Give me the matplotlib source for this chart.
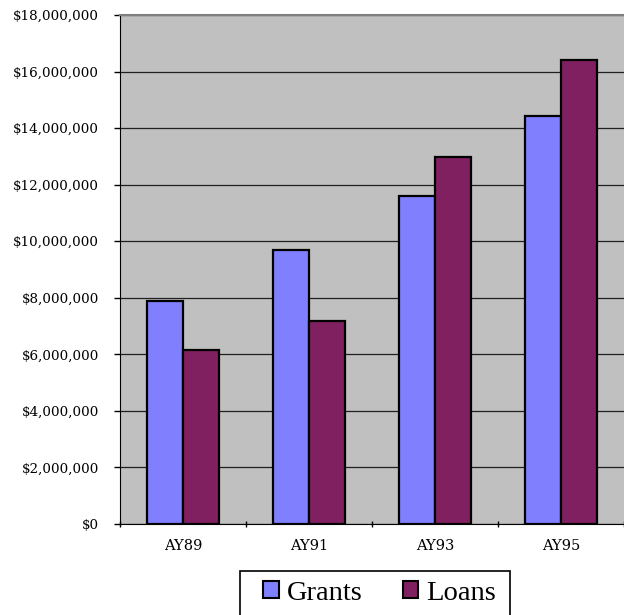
import matplotlib
matplotlib.use("Agg")
import matplotlib.pyplot as plt
from matplotlib.patches import Patch, Rectangle
from matplotlib.ticker import FuncFormatter
import numpy as np

years = ["AY89", "AY91", "AY93", "AY95"]
grants = [7870000, 9700000, 11590000, 14420000]
loans = [6160000, 7190000, 12970000, 16420000]

W, H = 624, 615
fig = plt.figure(figsize=(W / 100, H / 100), dpi=100)
ax = fig.add_axes([120 / W, (H - 524) / H, (W - 120) / W, (524 - 15) / H])
ax.set_facecolor("#c0c0c0")

x = np.arange(len(years))
bw = 0.286
ax.bar(x - bw / 2, grants, bw, color="#8080ff", edgecolor="black", linewidth=1.6, zorder=3)
ax.bar(x + bw / 2, loans, bw, color="#802060", edgecolor="black", linewidth=1.6, zorder=3)

ax.set_xlim(-0.5, len(years) - 0.5)
ax.set_ylim(0, 18000000)
ax.set_yticks(np.arange(0, 18000001, 2000000))
ax.yaxis.set_major_formatter(FuncFormatter(lambda v, p: "${:,.0f}".format(v)))
ax.yaxis.grid(True, color="#202020", linewidth=0.9, zorder=1)

# tick marks on the category boundaries, labels in the middle
ax.set_xticks(np.arange(-0.5, len(years), 1.0))
ax.set_xticklabels([])
ax.set_xticks(x, minor=True)
ax.set_xticklabels(years, minor=True)
ax.tick_params(axis="x", which="minor", length=0, pad=11)
ax.tick_params(axis="x", which="major", length=5, width=1, direction="inout")
ax.tick_params(axis="y", length=4, width=1, direction="out", pad=11)

for lab in ax.get_yticklabels():
    lab.set_family("DejaVu Serif")
    lab.set_fontsize(9.7)
for lab in ax.get_xticklabels(minor=True):
    lab.set_family("DejaVu Serif")
    lab.set_fontsize(10.5)

ax.spines["right"].set_visible(False)
ax.spines["top"].set_color("#808080")
ax.spines["top"].set_linewidth(1.5)
ax.spines["left"].set_color("black")
ax.spines["bottom"].set_color("black")

# legend box runs off the bottom edge of the image
fig.patches.append(Rectangle((240 / W, -0.05), (510 - 240) / W, (H - 571) / H + 0.05,
                             transform=fig.transFigure, facecolor="white",
                             edgecolor="black", linewidth=1.2))
handles = [Patch(facecolor="#8080ff", edgecolor="black", linewidth=1.5, label="Grants"),
           Patch(facecolor="#802060", edgecolor="black", linewidth=1.5, label="Loans")]
leg = fig.legend(handles=handles, loc="center left", bbox_to_anchor=(263 / W, (H - 593) / H),
                 ncol=2, frameon=False, prop={"family": "Liberation Serif", "size": 20.5},
                 handlelength=0.56, handleheight=0.56, handletextpad=0.28, columnspacing=1.4,
                 borderpad=0, borderaxespad=0)

fig.savefig("out.png", dpi=100)
